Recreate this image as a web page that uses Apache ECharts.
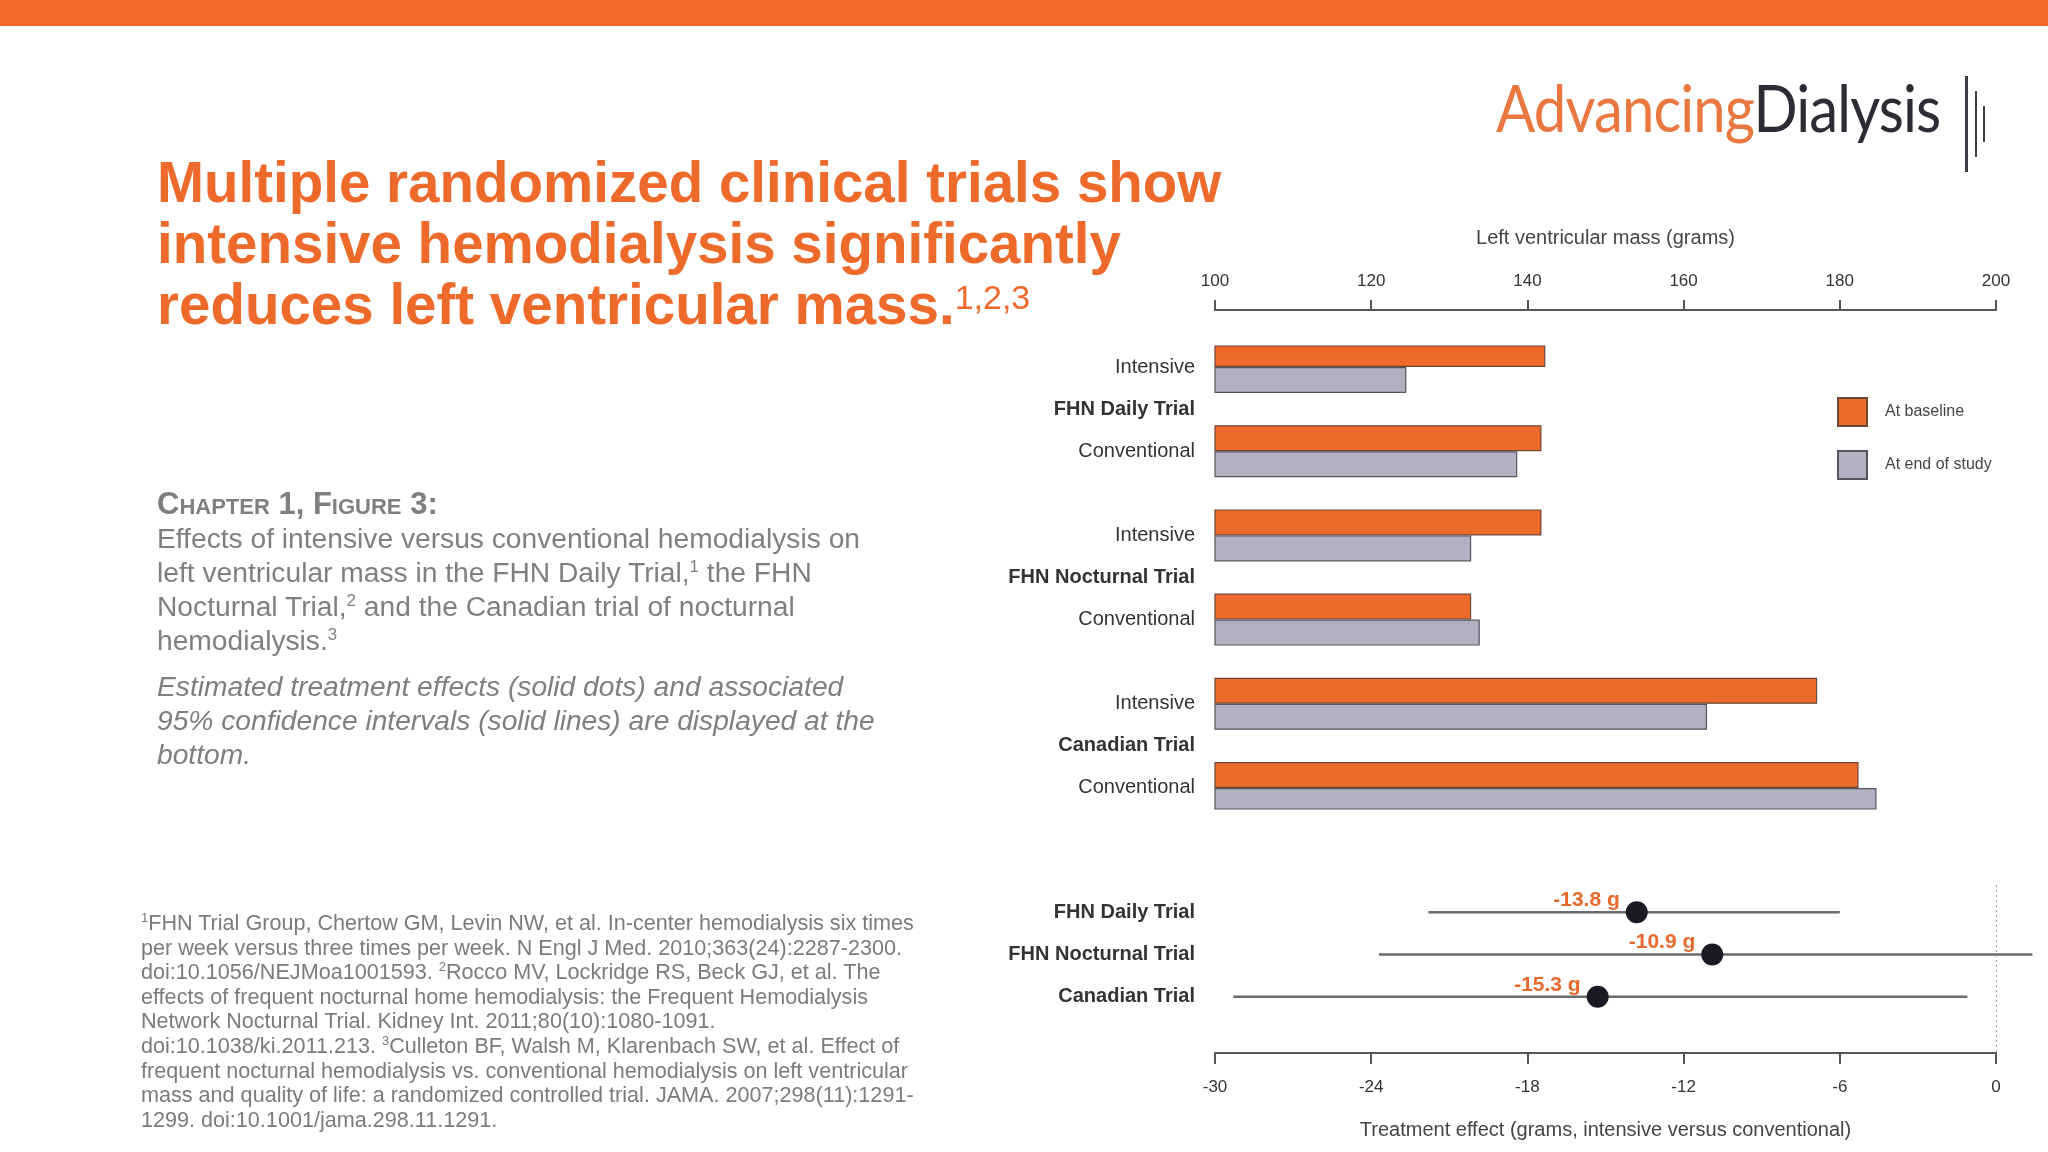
<!DOCTYPE html>
<html>
<head>
<meta charset="utf-8">
<title>Intensive hemodialysis and left ventricular mass</title>
<script src="https://cdn.jsdelivr.net/npm/echarts@6/dist/echarts.min.js"></script>
<style>
  html, body { margin: 0; padding: 0; background: #fff; }
  body { width: 2048px; height: 1152px; position: relative; overflow: hidden;
         font-family: 'Liberation Sans', Arial, sans-serif; }
  #chart { position: absolute; left: 0; top: 0; width: 2048px; height: 1152px; }
  #topBar { position: absolute; left: 0; top: 0; width: 2048px; height: 26px; background: #f26b2b; }
  .txt { position: absolute; white-space: nowrap; }
  #logo { left: 1496px; top: 62px; font-family: Lato, 'Open Sans', sans-serif; font-size: 66px;
          line-height: 90px; transform: scaleX(0.88); transform-origin: left center; letter-spacing: -1px; }
  #logo .adv { color: #e9773f; }
  #logo .dia { color: #2c2c34; }
  .vbar { position: absolute; background: #3d3d45; }
  #title { left: 157px; top: 152px; font-size: 56.5px; line-height: 61px; font-weight: bold; color: #ee6a2a; }
  #title sup { font-size: 34px; font-weight: normal; vertical-align: 0; line-height: 0; position: relative; top: -15px; }
  #caption { left: 157px; top: 487px; font-size: 28.2px; line-height: 34px; color: #7f7f7f; }
  #caption .head { font-weight: bold; font-variant: small-caps; font-size: 31px; }
  #caption sup, #refs sup { font-size: 60%; vertical-align: 0; line-height: 0; position: relative; top: -0.6em; }
  #note { left: 157px; top: 669px; font-size: 28.2px; line-height: 34px; color: #7f7f7f; font-style: italic; }
  #refs { left: 141px; top: 911px; font-size: 21.6px; line-height: 24.6px; color: #7b7b7b; }
</style>
</head>
<body>
<div id="chart"></div>
<div id="topBar"></div>

<div id="logo" class="txt"><span class="adv">Advancing</span><span class="dia">Dialysis</span></div>
<div class="vbar" style="left:1965px; top:76px; width:3px; height:96px"></div>
<div class="vbar" style="left:1975px; top:91px; width:2px; height:66px"></div>
<div class="vbar" style="left:1983px; top:106px; width:2px; height:36px"></div>

<div id="title" class="txt">Multiple randomized clinical trials show<br>intensive hemodialysis significantly<br>reduces left ventricular mass.<sup>1,2,3</sup></div>

<div id="caption" class="txt"><span class="head">Chapter 1, Figure 3:</span><br>Effects of intensive versus conventional hemodialysis on<br>left ventricular mass in the FHN Daily Trial,<sup>1</sup> the FHN<br>Nocturnal Trial,<sup>2</sup> and the Canadian trial of nocturnal<br>hemodialysis.<sup>3</sup></div>

<div id="note" class="txt">Estimated treatment effects (solid dots) and associated<br>95% confidence intervals (solid lines) are displayed at the<br>bottom.</div>

<div id="refs" class="txt"><sup>1</sup>FHN Trial Group, Chertow GM, Levin NW, et al. In-center hemodialysis six times<br>per week versus three times per week. N Engl J Med. 2010;363(24):2287-2300.<br>doi:10.1056/NEJMoa1001593. <sup>2</sup>Rocco MV, Lockridge RS, Beck GJ, et al. The<br>effects of frequent nocturnal home hemodialysis: the Frequent Hemodialysis<br>Network Nocturnal Trial. Kidney Int. 2011;80(10):1080-1091.<br>doi:10.1038/ki.2011.213. <sup>3</sup>Culleton BF, Walsh M, Klarenbach SW, et al. Effect of<br>frequent nocturnal hemodialysis vs. conventional hemodialysis on left ventricular<br>mass and quality of life: a randomized controlled trial. JAMA. 2007;298(11):1291-<br>1299. doi:10.1001/jama.298.11.1291.</div>

<script>
// trials and arms, top to bottom
const trials = ['FHN Daily Trial', 'FHN Nocturnal Trial', 'Canadian Trial'];
const arms = ['Intensive', 'Conventional'];

// left ventricular mass (g), per trial: intensive, conventional
const baseline = [142.3, 141.8, 141.8, 132.8, 177.1, 182.4];
const endOfStudy = [124.5, 138.7, 132.8, 133.9, 163.0, 184.7];

// treatment effect (g) with 95% CI
const effect = [-13.8, -10.9, -15.3];
const ciLow = [-21.8, -23.7, -29.3];
const ciHigh = [-6.0, 1.4, -1.1];

const orange = '#ee6a2a';
const lavender = '#b2b0c3';
const axisColor = '#555';

// rows of the bar chart: arm, trial name, arm, spacer
const rowLabels = [];
const baseRows = [];
const endRows = [];
trials.forEach((t, i) => {
  rowLabels.push(arms[0], t, arms[1]);
  baseRows.push(baseline[i * 2], null, baseline[i * 2 + 1]);
  endRows.push(endOfStudy[i * 2], null, endOfStudy[i * 2 + 1]);
  if (i < trials.length - 1) {
    rowLabels.push('');
    baseRows.push(null);
    endRows.push(null);
  }
});

const catLabel = {
  interval: 0,
  margin: 20,
  fontSize: 20,
  color: '#333',
  fontFamily: 'Liberation Sans',
  formatter: (v) => (trials.includes(v) ? '{b|' + v + '}' : v),
  rich: { b: { fontSize: 20, fontWeight: 'bold', color: '#333', fontFamily: 'Liberation Sans' } }
};

const chart = echarts.init(document.getElementById('chart'));
chart.setOption({
  animation: false,
  textStyle: { fontFamily: 'Liberation Sans' },
  grid: [
    { left: 1215, width: 781, top: 346, height: 463 },
    { left: 1215, width: 781, top: 891, height: 127 }
  ],
  legend: {
    data: ['At baseline', 'At end of study'],
    orient: 'vertical',
    left: 1832,
    top: 392,
    icon: 'rect',
    itemWidth: 29,
    itemHeight: 28,
    itemGap: 23,
    selectedMode: false,
    textStyle: { fontSize: 16, color: '#444', padding: [0, 0, 0, 13] }
  },
  xAxis: [
    {
      gridIndex: 0,
      type: 'value',
      position: 'top',
      offset: 36,
      min: 100,
      max: 200,
      interval: 20,
      name: 'Left ventricular mass (grams)',
      nameLocation: 'middle',
      nameGap: 62,
      nameTextStyle: { fontSize: 20, color: '#444' },
      axisLine: { show: true, lineStyle: { color: axisColor, width: 2 } },
      axisTick: { show: true, length: 10, lineStyle: { color: axisColor, width: 2 } },
      axisLabel: { fontSize: 17, color: '#333', margin: 20 },
      splitLine: { show: false }
    },
    {
      gridIndex: 1,
      type: 'value',
      position: 'bottom',
      offset: 35,
      min: -30,
      max: 0,
      interval: 6,
      name: 'Treatment effect (grams, intensive versus conventional)',
      nameLocation: 'middle',
      nameGap: 67,
      nameTextStyle: { fontSize: 20, color: '#444' },
      axisLine: { show: true, lineStyle: { color: axisColor, width: 2 } },
      axisTick: { show: true, length: 11, lineStyle: { color: axisColor, width: 2 } },
      axisLabel: { fontSize: 17, color: '#333', margin: 26 },
      splitLine: { show: false }
    }
  ],
  yAxis: [
    {
      gridIndex: 0,
      type: 'category',
      inverse: true,
      data: rowLabels,
      axisLine: { show: false },
      axisTick: { show: false },
      axisLabel: catLabel
    },
    {
      gridIndex: 1,
      type: 'category',
      inverse: true,
      data: trials,
      axisLine: { show: false },
      axisTick: { show: false },
      axisLabel: catLabel
    }
  ],
  series: [
    {
      name: 'At baseline',
      type: 'bar',
      xAxisIndex: 0,
      yAxisIndex: 0,
      data: baseRows,
      barWidth: 26,
      barGap: '0%',
      itemStyle: { color: orange, borderColor: '#6e4636', borderWidth: 1.2 }
    },
    {
      name: 'At end of study',
      type: 'bar',
      xAxisIndex: 0,
      yAxisIndex: 0,
      data: endRows,
      barWidth: 26,
      barGap: '0%',
      itemStyle: { color: lavender, borderColor: '#56555e', borderWidth: 1.2 }
    },
    {
      name: 'CI',
      type: 'custom',
      xAxisIndex: 1,
      yAxisIndex: 1,
      clip: false,
      data: trials.map((t, i) => [ciLow[i], ciHigh[i], i]),
      encode: { x: [0, 1], y: 2 },
      renderItem: (params, api) => {
        const a = api.coord([api.value(0), api.value(2)]);
        const b = api.coord([api.value(1), api.value(2)]);
        return {
          type: 'line',
          shape: { x1: a[0], y1: a[1], x2: b[0], y2: b[1] },
          style: { stroke: '#6b6b6b', lineWidth: 2.5 }
        };
      }
    },
    {
      name: 'Effect',
      type: 'scatter',
      xAxisIndex: 1,
      yAxisIndex: 1,
      data: effect.map((v, i) => [v, i]),
      symbolSize: 22,
      itemStyle: { color: '#1a1a26', opacity: 1 },
      label: {
        show: true,
        position: 'left',
        distance: 6,
        offset: [0, -12],
        formatter: (p) => p.value[0] + ' g',
        color: '#e8692c',
        fontSize: 21,
        fontWeight: 'bold'
      },
      markLine: {
        silent: true,
        symbol: 'none',
        label: { show: false },
        lineStyle: { color: '#9a9a9a', width: 1, type: [2, 3] },
        data: [[{ xAxis: 0, yAxis: 0, y: 885 }, { xAxis: 0, yAxis: 2, y: 1053 }]]
      }
    }
  ]
});
</script>
</body>
</html>
